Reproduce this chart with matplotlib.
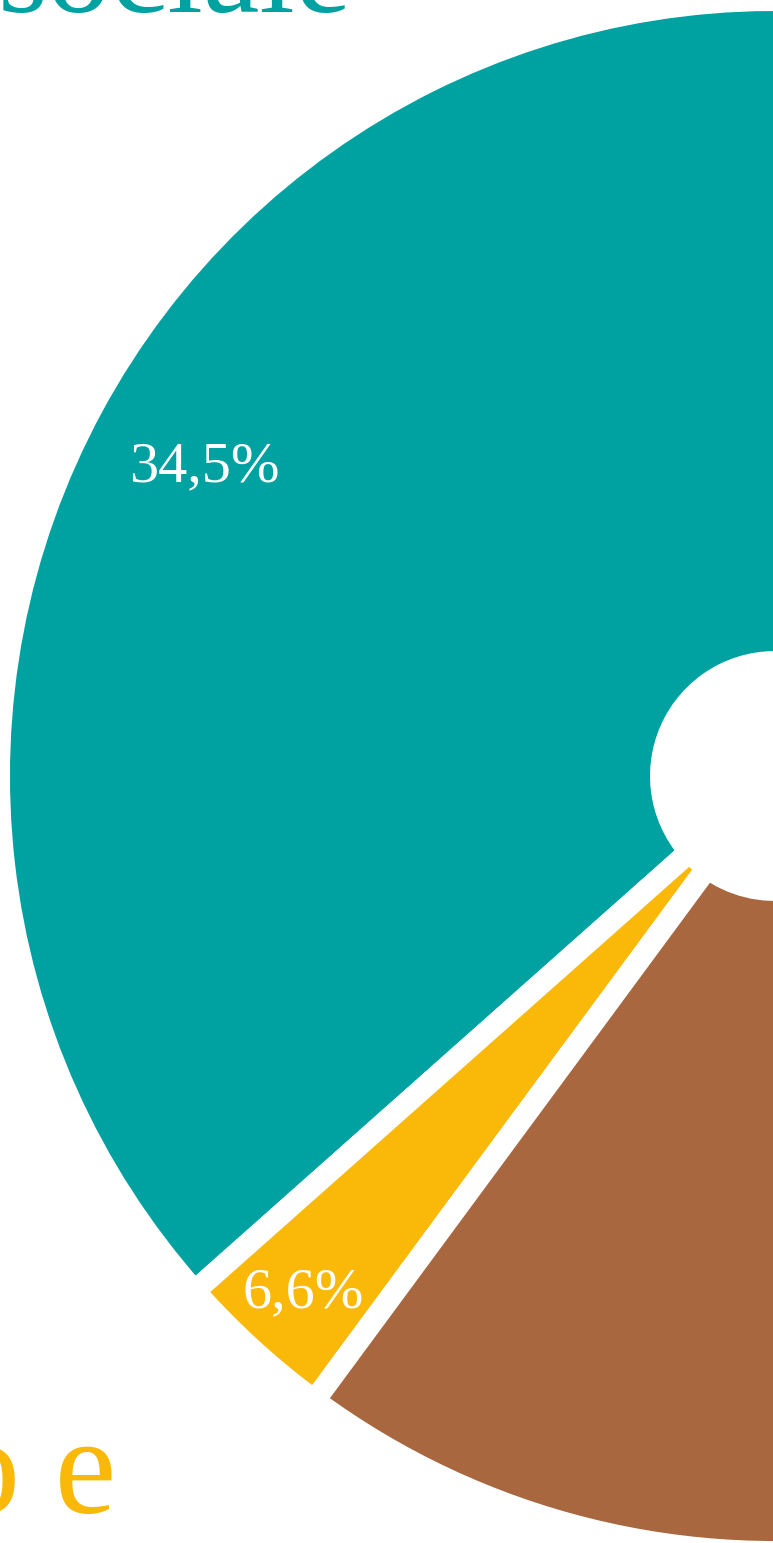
import matplotlib
matplotlib.use("Agg")
import matplotlib.pyplot as plt
import numpy as np

# slices, arc size in degrees (only the left part is visible)
names = ["teal", "yellow", "brown", "other"]
arc = [140.0, 12.0, 90.0, 118.0]
pct_labels = ["34,5%", "6,6%", "", ""]
colors = ["#00a1a1", "#fab908", "#a8673f", "#dddddd"]
label_r = [0.836, 0.902, 0.8, 0.8]

title_text = "sociale"
bottom_text = "Lavoro e"

serif = ["Liberation Serif", "Times New Roman", "DejaVu Serif"]

W, H = 773, 1543
fig = plt.figure(figsize=(W / 100, H / 100), dpi=100)
ax = fig.add_axes([0, 0, 1, 1])

cx, cy, R = 775, 767, 776
wedges, _ = ax.pie(arc, startangle=81.6, counterclock=True, colors=colors,
                   radius=R, center=(cx, cy),
                   wedgeprops=dict(width=662, edgecolor="white", linewidth=15.8))

# percentage labels at the middle of each wedge
for w, lab, r in zip(wedges, pct_labels, label_r):
    if not lab:
        continue
    mid = np.deg2rad((w.theta1 + w.theta2) / 2)
    ax.text(cx + r * R * np.cos(mid), cy + r * R * np.sin(mid), lab,
            color="white", fontsize=42, family=serif,
            ha="center", va="center")

# partially visible big words
ax.text(352, H - 12, title_text, color=colors[0], fontsize=92,
        family=serif, ha="right", va="baseline")
ax.text(116, H - 1513, bottom_text, color=colors[1], fontsize=100,
        family=serif, ha="right", va="baseline")

ax.set_xlim(0, W)
ax.set_ylim(0, H)
ax.set_aspect("auto")
ax.axis("off")

fig.savefig("out.png", dpi=100)
